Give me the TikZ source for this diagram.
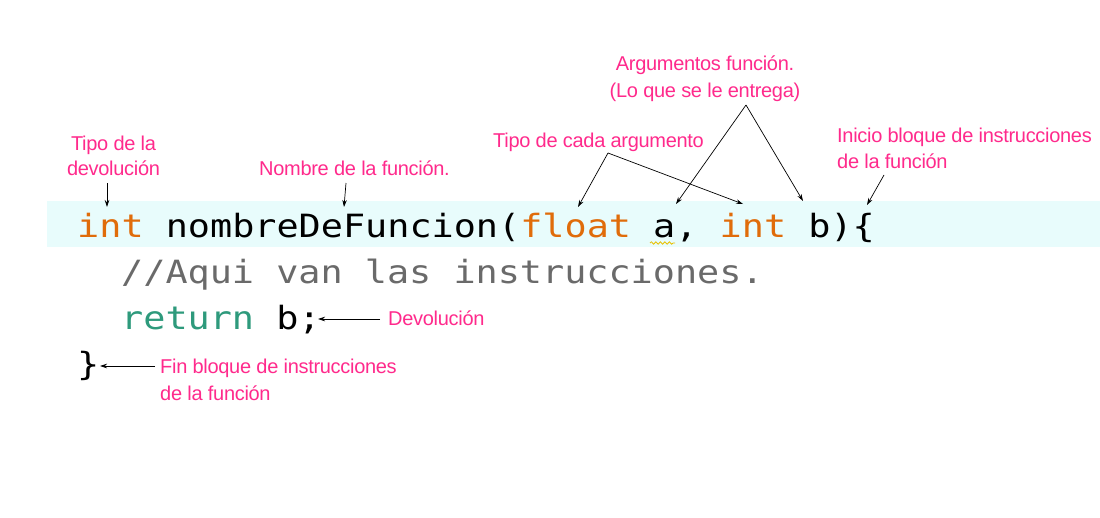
\documentclass[tikz,border=0pt]{standalone}
\usepackage{fontspec}
\setmainfont{Liberation Sans}
\newfontfamily\codefont{DejaVu Sans Mono}[FakeStretch=1.15]
\newfontfamily\lblfont{Liberation Sans}[LetterSpace=-1.5]
\usetikzlibrary{arrows.meta,decorations.pathmorphing}
\definecolor{kwcol}{HTML}{E06C0A}
\definecolor{retcol}{HTML}{2E9A7C}
\definecolor{cmtcol}{HTML}{6A6A6A}
\definecolor{lblcol}{HTML}{FF2A8C}
\definecolor{bandcol}{HTML}{E8FCFC}
\definecolor{squig}{HTML}{E8C000}
\begin{document}
\begin{tikzpicture}[x=1pt,y=-1pt,
  codeline/.style={anchor=base west, inner sep=0pt, font=\codefont\fontsize{32}{32}\selectfont},
  lbl/.style={anchor=base west, inner sep=0pt, text=lblcol, font=\lblfont\fontsize{20}{24}\selectfont},
  lblc/.style={lbl, anchor=base},
  ptr/.style={draw=black, line width=0.7pt, -{Stealth[length=7pt,width=4.5pt]}}]
\useasboundingbox (0,0) rectangle (1100,517);
\fill[white] (0,0) rectangle (1100,517);
% highlighted line
\fill[bandcol] (47,201) rectangle (1100,247);
% code
\node[codeline] (code1) at (77,237) {\textcolor{kwcol}{int} nombreDeFuncion(\textcolor{kwcol}{float} a, \textcolor{kwcol}{int} b)\{};
\node[codeline, text=cmtcol] (code2) at (121,283) {//Aqui van las instrucciones.};
\node[codeline] (code3) at (121,329) {\textcolor{retcol}{return} b;};
\node[codeline] (code4) at (77,375) {\}};
% squiggle under a
\draw[squig, line width=0.8pt, decorate, decoration={snake, amplitude=1.2pt, segment length=4.5pt}] (650,243) -- (675,243);
% labels
\node[lblc] (tipo1) at (113.5,150) {Tipo de la};
\node[lblc] (tipo2) at (113.5,175) {devolución};
\node[lbl] (nombre) at (259,175) {Nombre de la función.};
\node[lbl] (tipocada) at (493,147) {Tipo de cada argumento};
\node[lblc] (args1) at (705,70) {Argumentos función.};
\node[lblc] (args2) at (705,97) {(Lo que se le entrega)};
\node[lbl] (ini1) at (837,142) {Inicio bloque de instrucciones};
\node[lbl] (ini2) at (837,168) {de la función};
\node[lbl] (devol) at (388,325) {Devolución};
\node[lbl] (fin1) at (160,373) {Fin bloque de instrucciones};
\node[lbl] (fin2) at (160,400) {de la función};
% arrow coordinates
\coordinate (a1s) at (107,183); \coordinate (a1e) at (107,207);
\coordinate (a2s) at (346,183); \coordinate (a2e) at (344,207);
\coordinate (a3s) at (608,153); \coordinate (a3e) at (578,207); \coordinate (a3f) at (743,204);
\coordinate (a4s) at (746,105); \coordinate (a4e) at (676,204); \coordinate (a4f) at (803,201);
\coordinate (a5s) at (884,175); \coordinate (a5e) at (867,205);
\coordinate (a6s) at (380,319); \coordinate (a6e) at (318,319);
\coordinate (a7s) at (155,366); \coordinate (a7e) at (100,366);
% arrows
\draw[ptr] (a1s) -- (a1e);
\draw[ptr] (a2s) -- (a2e);
\draw[ptr] (a3s) -- (a3e);
\draw[ptr] (a3s) -- (a3f);
\draw[ptr] (a4s) -- (a4e);
\draw[ptr] (a4s) -- (a4f);
\draw[ptr] (a5s) -- (a5e);
\draw[ptr] (a6s) -- (a6e);
\draw[ptr] (a7s) -- (a7e);
\end{tikzpicture}
\end{document}
